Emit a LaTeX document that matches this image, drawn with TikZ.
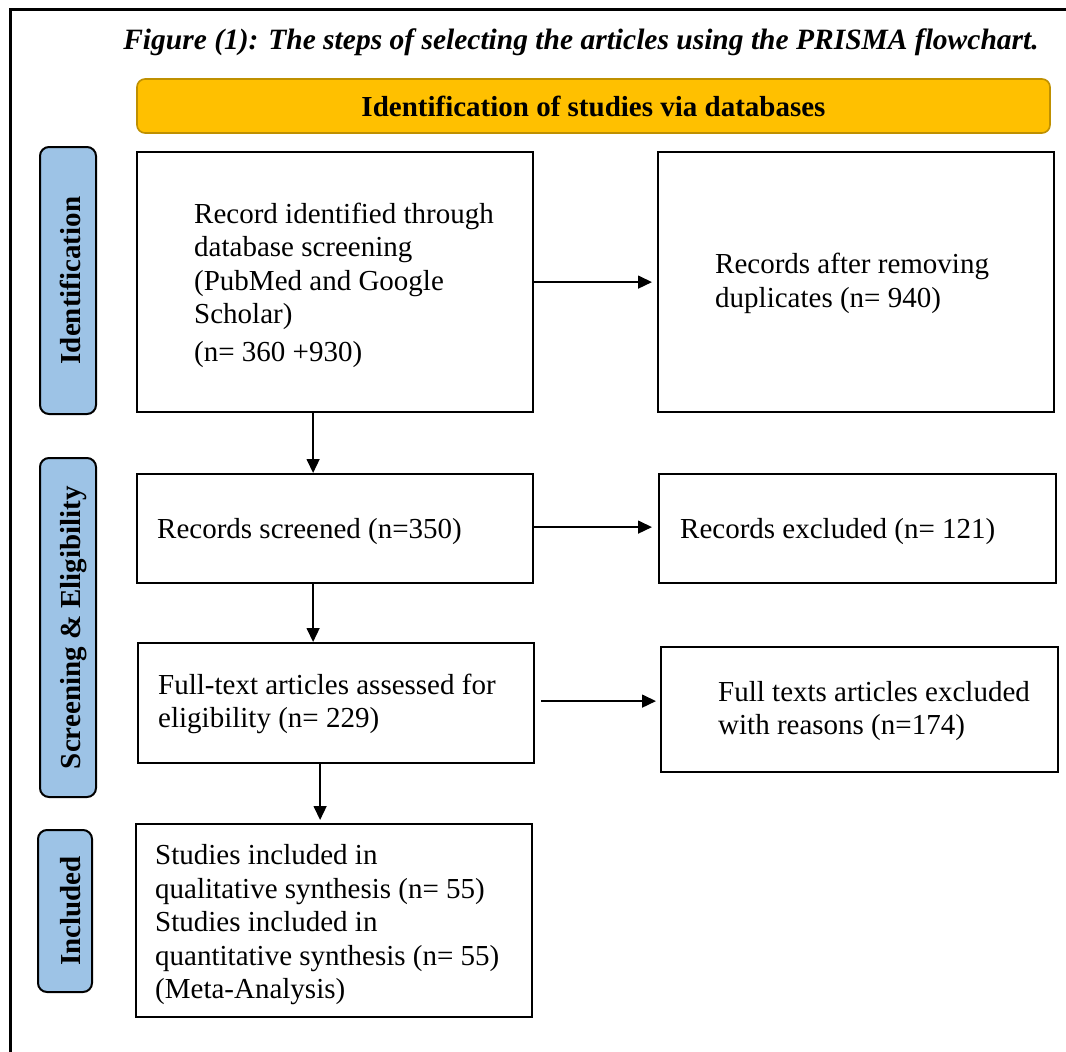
\documentclass[tikz,border=0pt]{standalone}
\usepackage{fontspec}
\setmainfont{Liberation Serif}
\usetikzlibrary{arrows.meta,positioning,calc}
\definecolor{headgold}{HTML}{FFC000}
\definecolor{headedge}{HTML}{BF9000}
\definecolor{stageblue}{HTML}{9DC3E6}
\tikzset{
    flowbox/.style={draw, line width=2.2pt, anchor=north west, inner sep=0pt},
    boxtext/.style={align=left, inner sep=0pt, font=\fontsize{29}{33.5}\selectfont},
    stagebox/.style={draw, fill=stageblue, rounded corners=9pt, line width=2pt,
        rotate=90, inner sep=0pt, text height=24pt, text depth=0pt,
        font=\fontsize{29}{33}\selectfont\bfseries},
    headbox/.style={draw=headedge, fill=headgold, rounded corners=8pt, line width=1.6pt,
        inner sep=0pt, font=\fontsize{29}{33}\selectfont\bfseries},
    flowarrow/.style={-{Triangle[length=14pt, width=13pt]}, line width=1.5pt}
}

\begin{document}
\begin{tikzpicture}[x=1pt, y=-1pt]
\useasboundingbox (0,0) rectangle (1066,1052);
\draw[line width=3pt] (10,1052) -- (10,9) -- (1066,9);

\node[font=\fontsize{29.5}{33}\selectfont\bfseries\itshape] (figtitle) at (581,42)
    {Figure (1): The steps of selecting the articles using the PRISMA flowchart.};
\node[headbox, minimum width=913pt, minimum height=54pt] (dbhead) at (593.5,106)
    {Identification of studies via databases};

% stage labels
\node[stagebox, minimum width=267pt, minimum height=56pt] (stageid) at (68,280.5) {Identification};
\node[stagebox, minimum width=339pt, minimum height=56pt] (stagescr) at (68,627.5) {Screening \& Eligibility};
\node[stagebox, minimum width=162pt, minimum height=54pt, text height=30pt] (stageinc) at (65,911) {Included};

% boxes
\node[flowbox, minimum width=396pt, minimum height=260pt] (recid) at (136,151) {};
\node[flowbox, minimum width=396pt, minimum height=260pt] (recdup) at (657,151) {};
\node[flowbox, minimum width=396pt, minimum height=109pt] (screened) at (136,473) {};
\node[flowbox, minimum width=397pt, minimum height=109pt] (excl) at (658,473) {};
\node[flowbox, minimum width=396pt, minimum height=120pt] (fulltext) at (137,642) {};
\node[flowbox, minimum width=397pt, minimum height=125pt] (ftexcl) at (660,646) {};
\node[flowbox, minimum width=396pt, minimum height=193pt] (incl) at (135,823) {};

% box texts
\node[boxtext, right=58pt of recid.west, yshift=-3pt] (recidtext)
    {Record identified through\\database screening\\(PubMed and Google\\Scholar)\\[4pt](n= 360 +930)};
\node[boxtext, right=58pt of recdup.west, yshift=-1.5pt] (recduptext)
    {Records after removing\\duplicates (n= 940)};
\node[boxtext, right=21pt of screened.west, yshift=-2.5pt] (screenedtext) {Records screened (n=350)};
\node[boxtext, right=22pt of excl.west, yshift=-2.5pt] (excltext) {Records excluded (n= 121)};
\node[boxtext, right=21pt of fulltext.west, yshift=-1pt] (fulltexttext)
    {Full-text articles assessed for\\eligibility (n= 229)};
\node[boxtext, right=58pt of ftexcl.west, yshift=-1.5pt] (ftexcltext)
    {Full texts articles excluded\\with reasons (n=174)};
\node[boxtext, right=20pt of incl.west, yshift=-4pt] (incltext)
    {Studies included in\\qualitative synthesis (n= 55)\\Studies included in\\quantitative synthesis (n= 55)\\(Meta-Analysis)};

% arrows
\draw[flowarrow, shorten >=5pt] (recid.east) -- (recdup.west);
\draw[flowarrow, shorten >=6pt] ([yshift=1.5pt]screened.east) -- ([yshift=1.5pt]screened.east -| excl.west);
\draw[flowarrow, shorten <=6pt, shorten >=4pt] ([yshift=2pt]fulltext.east) -- ([yshift=2pt]fulltext.east -| ftexcl.west);
\draw[flowarrow] ([xshift=-22pt]recid.south) -- ([xshift=-22pt]recid.south |- screened.north);
\draw[flowarrow] ([xshift=-22pt]screened.south) -- ([xshift=-22pt]screened.south |- fulltext.north);
\draw[flowarrow, shorten >=3pt] ([xshift=-16pt]fulltext.south) -- ([xshift=-16pt]fulltext.south |- incl.north);
\end{tikzpicture}
\end{document}
